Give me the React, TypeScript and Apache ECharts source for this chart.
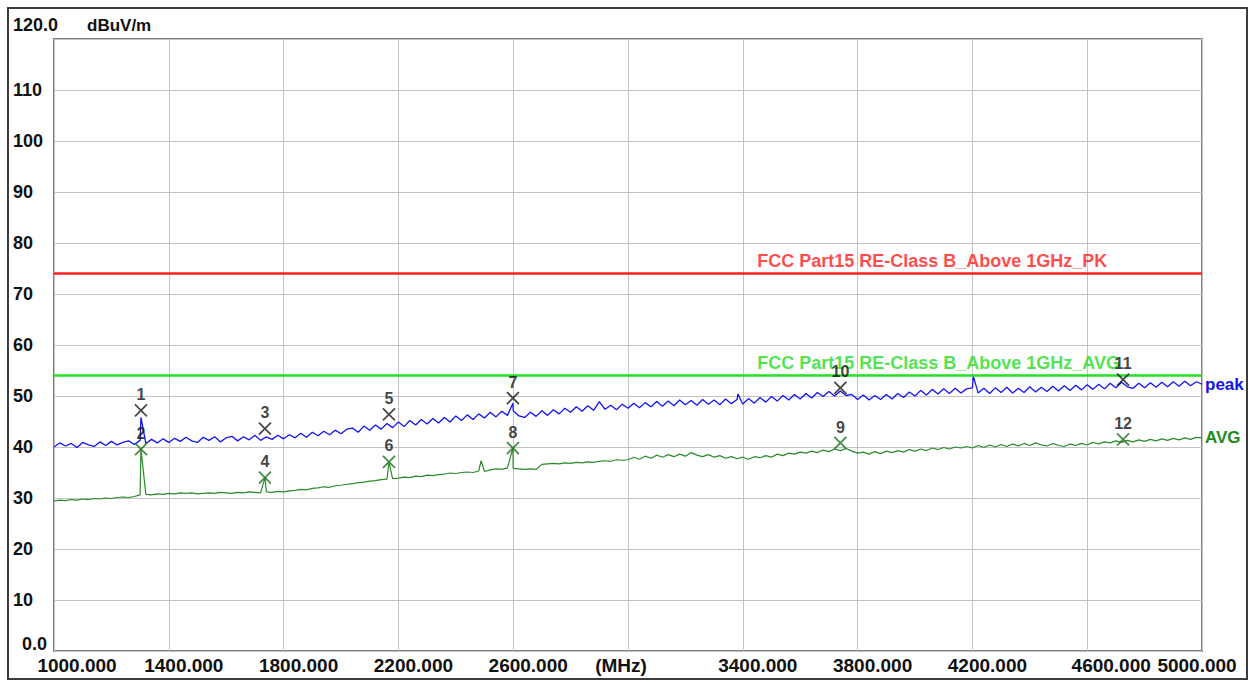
import React, { useEffect, useRef } from "react";
import * as echarts from "echarts";

// ---------- data ----------
const traceStartMHz = 1000;
const traceStepMHz = 20;

// Peak trace (dBuV/m), every 20 MHz from 1000 to 5000 MHz
const peakTrace = [
  40.0, 40.8, 40.2, 40.7, 39.9, 40.9, 40.4, 40.1, 41.0, 40.3, 41.1, 40.4, 40.9, 41.2, 40.5, 41.3, 40.7, 41.5, 40.8, 41.6,
  40.9, 41.7, 41.1, 41.9, 41.2, 40.9, 41.9, 41.3, 42.0, 41.0, 41.8, 42.1, 41.2, 42.0, 41.4, 42.3, 41.3, 42.0, 41.5, 42.3,
  41.6, 42.4, 41.8, 42.7, 41.9, 42.9, 42.2, 43.1, 42.4, 43.3, 42.6, 43.5, 43.7, 42.9, 44.1, 43.3, 44.3, 43.5, 44.6, 43.8,
  44.9, 44.0, 45.2, 44.3, 45.4, 44.5, 45.6, 44.7, 45.8, 44.9, 46.1, 45.2, 46.3, 45.4, 46.5, 45.7, 46.8, 45.9, 47.0, 46.2,
  47.1, 46.1, 45.8, 46.8, 46.0, 47.1, 46.2, 47.3, 46.5, 47.6, 46.8, 47.9, 47.0, 48.1, 47.2, 48.9, 47.4, 48.2, 47.3, 48.4,
  47.6, 48.6, 47.7, 48.7, 47.9, 48.9, 48.0, 49.0, 48.1, 49.2, 48.3, 49.1, 48.2, 49.3, 48.4, 49.2, 48.3, 49.4, 48.5, 49.3,
  48.4, 49.5, 48.6, 49.7, 48.8, 49.9, 49.0, 50.1, 49.2, 50.3, 49.4, 50.5, 49.6, 50.7, 49.9, 50.9, 50.0, 51.0, 50.1, 50.3,
  49.3, 50.2, 49.2, 50.1, 49.3, 50.3, 49.4, 50.5, 49.7, 50.8, 50.0, 51.1, 50.2, 51.3, 50.4, 51.4, 50.5, 51.5, 50.6, 51.4,
  51.6, 50.6, 51.5, 50.5, 51.6, 50.7, 51.7, 50.6, 51.5, 50.7, 51.8, 50.8, 51.7, 50.9, 51.9, 51.0, 52.0, 51.1, 52.1, 51.2,
  52.2, 51.3, 52.3, 51.4, 52.5, 51.6, 52.7, 51.8, 51.5, 52.5, 51.6, 52.6, 51.7, 52.7, 51.8, 52.8, 51.9, 52.9, 52.0, 52.8,
  52.3,
];

// Average trace (dBuV/m), every 20 MHz from 1000 to 5000 MHz
const avgTrace = [
  29.4, 29.6, 29.5, 29.7, 29.6, 29.8, 29.7, 29.9, 29.8, 30.0, 29.9, 30.1, 30.2, 30.1, 30.3, 30.6, 30.7, 30.6, 30.8, 30.7,
  30.9, 30.8, 31.0, 30.9, 31.0, 30.8, 30.9, 31.0, 30.9, 31.1, 31.0, 30.9, 31.1, 31.0, 31.2, 31.1, 31.0, 31.2, 31.1, 31.3,
  31.2, 31.4, 31.5, 31.7, 31.6, 31.9, 32.0, 32.2, 32.1, 32.4, 32.5, 32.7, 32.8, 33.0, 33.1, 33.3, 33.4, 33.6, 33.7, 33.8,
  33.9, 34.1, 34.0, 34.3, 34.2, 34.5, 34.4, 34.6, 34.7, 34.9, 34.8, 35.0, 35.1, 35.0, 35.3, 35.2, 35.5, 35.7, 35.6, 35.9,
  35.8, 35.7, 35.6, 35.7, 35.6, 36.6, 36.7, 36.8, 36.7, 36.9, 36.8, 37.0, 36.9, 37.1, 37.0, 37.2, 37.3, 37.2, 37.5, 37.4,
  37.5, 38.0, 37.6, 38.2, 37.8, 38.4, 38.0, 38.5, 38.1, 38.6, 38.2, 38.9, 38.4, 38.1, 38.5, 38.0, 38.3, 37.8, 38.1, 37.7,
  38.0, 37.6, 38.1, 37.9, 38.3, 38.0, 38.6, 38.3, 38.8, 38.6, 39.0, 38.8, 39.2, 38.9, 39.4, 39.1, 39.6, 39.3, 39.7, 39.2,
  38.8, 39.0, 38.6, 39.1, 38.7, 39.2, 38.9, 39.3, 39.0, 39.5, 39.2, 39.6, 39.3, 39.8, 39.5, 39.9, 39.6, 40.0, 39.8, 40.1,
  39.8, 40.3, 39.9, 40.4, 40.0, 40.5, 40.1, 40.6, 40.2, 40.7, 40.3, 40.8, 40.4, 40.2, 40.7, 40.3, 40.1, 40.6, 40.3, 40.7,
  40.4, 40.9, 40.6, 41.0, 40.8, 41.2, 40.9, 41.3, 41.0, 41.4, 41.1, 41.5, 41.2, 41.6, 41.3, 41.7, 41.4, 41.8, 41.5, 41.9,
  41.8,
];

// Narrow emissions (spikes) in each trace
const peakSpikeFreqs = [1303, 2599, 3383, 4203];
const peakSpikeValues = [45.8, 48.6, 50.4, 53.9];
const avgSpikeFreqs = [1303, 1735, 2167, 2488, 2599];
const avgSpikeValues = [39.6, 34.0, 37.0, 37.3, 39.8];

// Markers
const peakMarkerIds = ["1", "3", "5", "7", "10", "11"];
const peakMarkerFreqs = [1303, 1735, 2167, 2599, 3740, 4725];
const peakMarkerValues = [47.2, 43.6, 46.4, 49.6, 51.6, 53.2];
const avgMarkerIds = ["2", "4", "6", "8", "9", "12"];
const avgMarkerFreqs = [1303, 1735, 2167, 2599, 3740, 4725];
const avgMarkerValues = [39.6, 34.0, 37.1, 39.8, 40.8, 41.5];

// Limits
const pkLimit = 74;
const avgLimit = 54;
const pkLimitName = "FCC Part15 RE-Class B_Above 1GHz_PK";
const avgLimitName = "FCC Part15 RE-Class B_Above 1GHz_AVG";
const limitLabelFreq = 3450;

// Axes
const xMin = 1000;
const xMax = 5000;
const xInterval = 400;
const unitTickValue = 3000;
const yMin = 0;
const yMax = 120;
const yInterval = 10;

function buildTrace(values: number[], spikeF: number[], spikeV: number[]) {
  const pts: number[][] = values.map((v, i) => [traceStartMHz + i * traceStepMHz, v]);
  spikeF.forEach((f, i) => pts.push([f, spikeV[i]]));
  pts.sort((a, b) => a[0] - b[0]);
  return pts;
}

const FONT = "'Liberation Sans', Arial, sans-serif";

export default function App() {
  const ref = useRef<HTMLDivElement>(null);

  useEffect(() => {
    if (!ref.current) return;
    const chart = echarts.init(ref.current, null, { renderer: "svg" });

    const xRich = {
      n: { fontSize: 19, fontWeight: "bold", color: "#111", fontFamily: FONT, padding: [0, 0, 0, 30] },
      first: { fontSize: 19, fontWeight: "bold", color: "#111", fontFamily: FONT, padding: [0, 0, 0, 46] },
      wide: { fontSize: 19, fontWeight: "bold", color: "#111", fontFamily: FONT, padding: [0, 0, 0, 48] },
      last: { fontSize: 19, fontWeight: "bold", color: "#111", fontFamily: FONT, padding: [0, 10, 0, 0] },
      u: { fontSize: 19, fontWeight: "bold", color: "#111", fontFamily: FONT, padding: [0, 14, 0, 0] },
    };
    const yRich = {
      n: { fontSize: 18, fontWeight: "bold", color: "#111", fontFamily: FONT },
      top: { fontSize: 18, fontWeight: "bold", color: "#111", fontFamily: FONT, padding: [0, 0, 28, 0] },
      zero: { fontSize: 18, fontWeight: "bold", color: "#111", fontFamily: FONT, padding: [0, 0, 14, 9] },
    };

    const limitLabel = (name: string, color: string) => ({
      show: true,
      position: "right",
      distance: 0,
      offset: [0, -13],
      formatter: name,
      color,
      fontSize: 18,
      fontWeight: "bold",
      fontFamily: FONT,
    });

    const markerLabel = {
      show: true,
      position: "top",
      distance: 1,
      formatter: (p: any) => p.name,
      color: "#111",
      fontSize: 16,
      fontWeight: "bold",
      fontFamily: FONT,
    };

    const option: any = {
      animation: false,
      backgroundColor: "#ffffff",
      grid: {
        left: 54,
        right: 50,
        top: 39,
        bottom: 31,
        show: true,
        borderColor: "#808080",
        borderWidth: 2,
        containLabel: false,
      },
      xAxis: {
        type: "value",
        min: xMin,
        max: xMax,
        interval: xInterval,
        axisLine: { show: false },
        axisTick: { show: false },
        splitLine: { show: true, lineStyle: { color: "#c4c4c4", width: 1 } },
        axisLabel: {
          show: true,
          margin: 5,
          showMinLabel: true,
          showMaxLabel: true,
          formatter: (v: number) => {
            if (v === unitTickValue) return "{u|(MHz)}";
            const s = v.toFixed(3);
            if (v === xMin) return `{first|${s}}`;
            if (v === xMax) return `{last|${s}}`;
            if (v === 4600) return `{wide|${s}}`;
            return `{n|${s}}`;
          },
          rich: xRich,
        },
      },
      yAxis: {
        type: "value",
        min: yMin,
        max: yMax,
        interval: yInterval,
        name: "dBuV/m",
        nameLocation: "end",
        nameGap: 14,
        nameTextStyle: {
          align: "left",
          verticalAlign: "middle",
          padding: [0, 0, 0, 33],
          fontSize: 17,
          fontWeight: "bold",
          color: "#111",
          fontFamily: FONT,
        },
        axisLine: { show: false },
        axisTick: { show: false },
        splitLine: { show: true, lineStyle: { color: "#c4c4c4", width: 1 } },
        axisLabel: {
          show: true,
          align: "left",
          margin: 41,
          showMinLabel: true,
          showMaxLabel: true,
          formatter: (v: number) => {
            if (v === yMax) return "{top|120.0}";
            if (v === yMin) return "{zero|0.0}";
            return `{n|${v}}`;
          },
          rich: yRich,
        },
      },
      graphic: [
        {
          type: "rect",
          silent: true,
          z: 100,
          shape: { x: 8, y: 8, width: 1239, height: 671 },
          style: { fill: "none", stroke: "#3c3c3c", lineWidth: 2 },
        },
      ],
      series: [
        {
          name: "PK limit",
          type: "line",
          data: [
            [xMin, pkLimit],
            [xMax, pkLimit],
          ],
          symbol: "none",
          lineStyle: { color: "#ff2020", width: 2.5 },
          silent: true,
          z: 3,
        },
        {
          name: "AVG limit",
          type: "line",
          data: [
            [xMin, avgLimit],
            [xMax, avgLimit],
          ],
          symbol: "none",
          lineStyle: { color: "#22e022", width: 2.5 },
          silent: true,
          z: 3,
        },
        {
          name: "peak",
          type: "line",
          data: buildTrace(peakTrace, peakSpikeFreqs, peakSpikeValues),
          symbol: "none",
          lineStyle: { color: "#1414f0", width: 1.3 },
          endLabel: {
            show: true,
            formatter: "peak",
            distance: 3,
            color: "#1414e6",
            fontSize: 17,
            fontWeight: "bold",
            fontFamily: FONT,
          },
          silent: true,
          z: 2,
        },
        {
          name: "AVG",
          type: "line",
          data: buildTrace(avgTrace, avgSpikeFreqs, avgSpikeValues),
          symbol: "none",
          lineStyle: { color: "#2a8a2a", width: 1.2 },
          endLabel: {
            show: true,
            formatter: "AVG",
            distance: 3,
            color: "#1f8a1f",
            fontSize: 17,
            fontWeight: "bold",
            fontFamily: FONT,
          },
          silent: true,
          z: 2,
        },
        {
          name: "PK limit label",
          type: "scatter",
          data: [[limitLabelFreq, pkLimit]],
          symbolSize: 0,
          silent: true,
          label: limitLabel(pkLimitName, "#ff1a1a"),
          z: 4,
        },
        {
          name: "AVG limit label",
          type: "scatter",
          data: [[limitLabelFreq, avgLimit]],
          symbolSize: 0,
          silent: true,
          label: limitLabel(avgLimitName, "#22dd22"),
          z: 4,
        },
        {
          name: "peak markers",
          type: "scatter",
          data: peakMarkerFreqs.map((f, i) => ({ name: peakMarkerIds[i], value: [f, peakMarkerValues[i]] })),
          symbol: "path://M0,0L10,10M10,0L0,10",
          symbolSize: 12,
          itemStyle: { color: "rgba(0,0,0,0)", borderColor: "#1a1a1a", borderWidth: 1.8 },
          label: markerLabel,
          silent: true,
          z: 6,
        },
        {
          name: "avg markers",
          type: "scatter",
          data: avgMarkerFreqs.map((f, i) => ({ name: avgMarkerIds[i], value: [f, avgMarkerValues[i]] })),
          symbol: "path://M0,0L10,10M10,0L0,10",
          symbolSize: 12,
          itemStyle: { color: "rgba(0,0,0,0)", borderColor: "#1d6e1d", borderWidth: 1.8 },
          label: markerLabel,
          silent: true,
          z: 6,
        },
      ],
    };

    chart.setOption(option);
    return () => chart.dispose();
  }, []);

  return (
    <div
      ref={ref}
      style={{ position: "absolute", left: 0, top: 0, width: 1252, height: 682, background: "#fff" }}
    />
  );
}
